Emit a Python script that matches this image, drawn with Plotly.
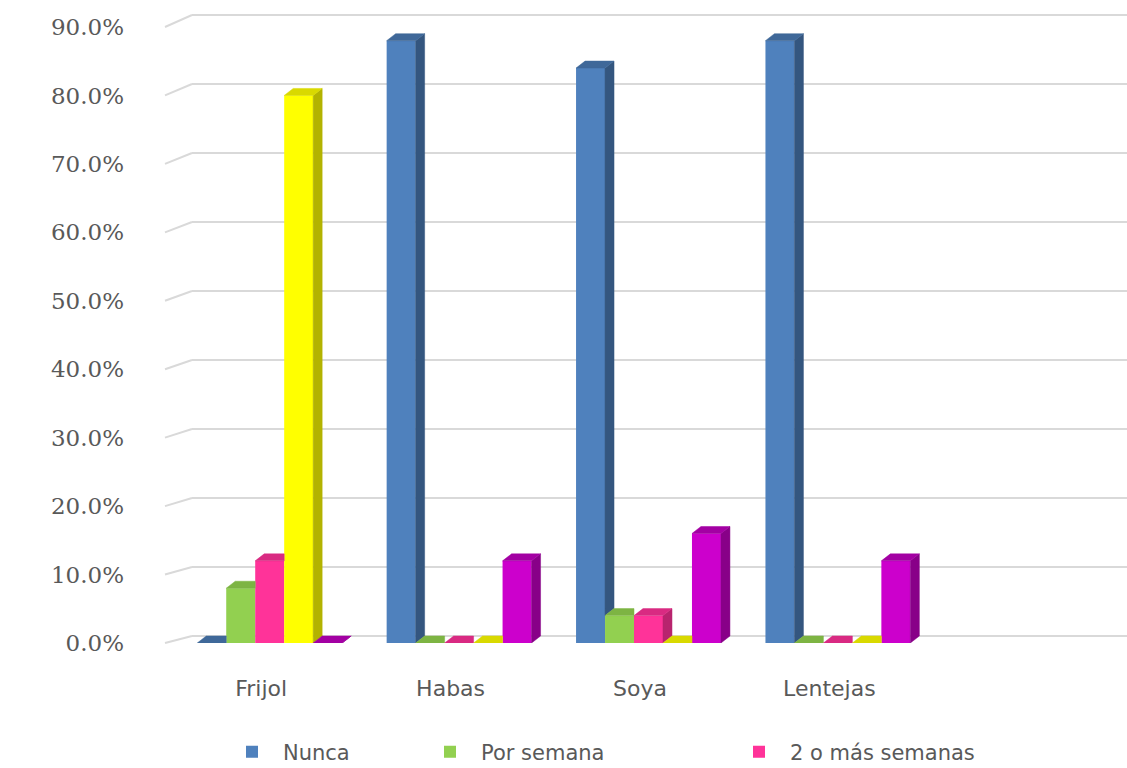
import plotly.graph_objects as go

# Consumption frequency of legumes (share of respondents)
categories = ["Frijol", "Habas", "Soya", "Lentejas"]
series_names = ["Nunca", "Por semana", "2 o más semanas", "Serie 4", "Serie 5"]
nunca = [0.00, 0.88, 0.84, 0.88]
por_semana = [0.08, 0.00, 0.04, 0.00]
dos_o_mas = [0.12, 0.00, 0.04, 0.00]
serie4 = [0.80, 0.00, 0.00, 0.00]
serie5 = [0.00, 0.12, 0.16, 0.12]
y_ticks = [0.0, 0.1, 0.2, 0.3, 0.4, 0.5, 0.6, 0.7, 0.8, 0.9]

values = [nunca, por_semana, dos_o_mas, serie4, serie5]
front = ["#4F81BD", "#92D050", "#FF3399", "#FFFF00", "#CC00CC"]
side = ["#34567F", "#6A9A38", "#B8246E", "#B3B300", "#880088"]
top = ["#3F6899", "#7DB443", "#D92A82", "#D9D900", "#A300A3"]
legend_ids = ["legend", "legend2", "legend3", None, None]
legend_left_px = [221, 419, 728]

# Page geometry (pixels)
W, H = 1127, 768
L, R, T, B = 175, 5, 27, 125
PW, PH = W - L - R, H - T - B
YMAX = 0.9
N_SLOTS = 5                          # four categories plus one empty slot
units_per_px_x = N_SLOTS / PW
units_per_px_y = YMAX / PH

n_series = len(values)
bar_w = 0.153                        # width of one column (category units)
bargap = 1 - n_series * bar_w
dx = 9 * units_per_px_x              # depth shift to the right
dy = 7 * units_per_px_y              # depth shift upwards

fig = go.Figure()

# Front faces as grouped bars
for k in range(n_series):
    fig.add_trace(go.Bar(
        x=list(range(len(categories))), y=values[k], name=series_names[k],
        marker=dict(color=front[k], line=dict(width=0)),
        showlegend=legend_ids[k] is not None,
        legend=legend_ids[k] or "legend",
        hoverinfo="skip",
    ))

# Side and top faces, clipped where the next column hides them
for k in range(n_series):
    sx, sy, tx, ty = [], [], [], []
    for i in range(len(categories)):
        v = values[k][i]
        v_next = values[k + 1][i] if k + 1 < n_series else 0.0
        xl = i + (k - (n_series - 1) / 2) * bar_w - bar_w / 2
        xr = xl + bar_w
        if v > v_next or k + 1 == n_series:
            lo = v_next if k + 1 < n_series else 0.0
            sx += [xr, xr, xr + dx, xr + dx, xr, None]
            sy += [lo, v, v + dy, lo + dy, lo, None]
            tx += [xl, xr, xr + dx, xl + dx, xl, None]
            ty += [v, v, v + dy, v + dy, v, None]
        else:
            tx += [xl, xr, xr, xl + dx, xl, None]
            ty += [v, v, v + dy, v + dy, v, None]
    for xs, ys, col in ((sx, sy, side[k]), (tx, ty, top[k])):
        fig.add_trace(go.Scatter(
            x=xs, y=ys, mode="lines", fill="toself", fillcolor=col,
            line=dict(width=0.5, color=col), showlegend=False,
            hoverinfo="skip", cliponaxis=False,
        ))

# Back-wall gridlines with the slanted floor edge on the left
back_px_per_unit = 621 / YMAX
shapes = []
for v in y_ticks:
    y_front = (v / YMAX)
    y_back = (643 - (636 - v * back_px_per_unit)) / PH
    x_a = (165 - L) / PW
    x_b = (192 - L) / PW
    x_c = (W - L) / PW
    shapes.append(dict(type="line", xref="paper", yref="paper",
                       x0=x_a, y0=y_front, x1=x_b, y1=y_back,
                       line=dict(color="#D9D9D9", width=2), layer="below"))
    shapes.append(dict(type="line", xref="paper", yref="paper",
                       x0=x_b, y0=y_back, x1=x_c, y1=y_back,
                       line=dict(color="#D9D9D9", width=2), layer="below"))

legend_style = dict(
    orientation="h", xref="container", yref="container",
    xanchor="left", y=(H - 752) / H, yanchor="middle",
    font=dict(family="DejaVu Sans", size=21, color="#595959"),
    bgcolor="rgba(0,0,0,0)", itemwidth=52, borderwidth=0,
)

fig.update_layout(
    width=W, height=H,
    margin=dict(l=L, r=R, t=T, b=B, pad=0, autoexpand=False),
    paper_bgcolor="white", plot_bgcolor="white",
    barmode="group", bargap=bargap, bargroupgap=0,
    shapes=shapes,
    xaxis=dict(
        range=[-0.5, N_SLOTS - 0.5],
        tickmode="array",
        tickvals=[i - 0.045 for i in range(len(categories))],
        ticktext=categories,
        showgrid=False, zeroline=False, showline=False, ticks="",
        ticklabelstandoff=30,
        tickfont=dict(family="DejaVu Sans", size=22, color="#595959"),
    ),
    yaxis=dict(
        range=[0, YMAX], tickmode="array", tickvals=y_ticks,
        tickformat=".1%", showgrid=False, zeroline=False, showline=False,
        ticks="", ticklabelstandoff=50,
        tickfont=dict(family="DejaVu Serif", size=23, color="#595959"),
    ),
    legend=dict(legend_style, x=legend_left_px[0] / W),
    legend2=dict(legend_style, x=legend_left_px[1] / W),
    legend3=dict(legend_style, x=legend_left_px[2] / W),
)

fig.write_html("out.html")
